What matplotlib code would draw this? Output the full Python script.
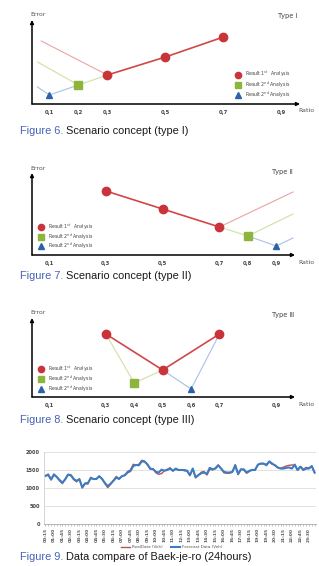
import matplotlib
matplotlib.use('Agg')
import matplotlib.pyplot as plt
import numpy as np

W, H = 319, 566

# ---------------- scenario data (ratio, error in arbitrary units) ----------------
# Type I
t1_ticks = [0.1, 0.2, 0.3, 0.5, 0.7, 0.9]
t1_first_x, t1_first_y = [0.3, 0.5, 0.7], [29, 47, 67]
t1_second_x, t1_second_y = [0.2], [19]
t1_third_x, t1_third_y = [0.1], [9]
t1_red_faint = ([0.072, 0.3], [63, 29])
t1_green_faint = ([0.059, 0.2, 0.3], [42, 19, 29])
t1_blue_faint = ([0.059, 0.1, 0.2], [17, 9, 19])

# Type II
t2_ticks = [0.1, 0.3, 0.5, 0.7, 0.8, 0.9]
t2_first_x, t2_first_y = [0.3, 0.5, 0.7], [64, 46, 28]
t2_second_x, t2_second_y = [0.8], [19]
t2_third_x, t2_third_y = [0.9], [9]
t2_red_faint = ([0.7, 0.959], [28, 63])
t2_green_faint = ([0.7, 0.8, 0.959], [28, 19, 41])
t2_blue_faint = ([0.8, 0.9, 0.959], [19, 9, 17])

# Type III
t3_ticks = [0.1, 0.3, 0.4, 0.5, 0.6, 0.7, 0.9]
t3_first_x, t3_first_y = [0.3, 0.5, 0.7], [63, 27, 63]
t3_second_x, t3_second_y = [0.4], [14]
t3_third_x, t3_third_y = [0.6], [8]
t3_red_faint = ([], [])
t3_green_faint = ([0.3, 0.4, 0.5], [63, 14, 27])
t3_blue_faint = ([0.5, 0.6, 0.7], [27, 8, 63])

legend_labels = [r'Result 1$^{st}$  Analysis', r'Result 2$^{nd}$ Analysis', r'Result 2$^{nd}$ Analysis']

# ---------------- Baek-je-ro 24h data (veh, every 15 min) ----------------
time_labels = ['00:15', '01:00', '01:45', '02:30', '03:15', '04:00', '04:45', '05:30',
               '06:15', '07:00', '07:45', '08:30', '09:15', '10:00', '10:45', '11:30',
               '12:15', '13:00', '13:45', '14:30', '15:15', '16:00', '16:45', '17:30',
               '18:15', '19:00', '19:45', '20:30', '21:15', '22:00', '22:45', '23:30']

real_data = [1330, 1390, 1220, 1360, 1300, 1200, 1120, 1260, 1380, 1340,
             1230, 1170, 1260, 1000, 1120, 1110, 1300, 1240, 1260, 1320,
             1260, 1120, 1010, 1100, 1210, 1320, 1260, 1320, 1360, 1460,
             1500, 1660, 1630, 1660, 1770, 1750, 1640, 1520, 1540, 1420,
             1380, 1400, 1480, 1520, 1560, 1470, 1520, 1490, 1510, 1480,
             1470, 1340, 1520, 1280, 1350, 1440, 1460, 1360, 1520, 1500,
             1560, 1640, 1540, 1420, 1410, 1410, 1440, 1650, 1370, 1510,
             1500, 1410, 1460, 1510, 1510, 1640, 1670, 1670, 1660, 1720,
             1660, 1640, 1560, 1550, 1580, 1610, 1630, 1640, 1630, 1490,
             1600, 1520, 1570, 1560, 1600, 1420]

forecast_data = [1340, 1360, 1240, 1380, 1310, 1220, 1150, 1240, 1370, 1360,
                 1250, 1200, 1240, 1020, 1130, 1140, 1270, 1250, 1250, 1330,
                 1250, 1140, 1050, 1120, 1200, 1290, 1250, 1330, 1350, 1430,
                 1470, 1610, 1640, 1630, 1740, 1730, 1660, 1540, 1520, 1450,
                 1430, 1510, 1480, 1500, 1540, 1480, 1540, 1500, 1500, 1500,
                 1480, 1360, 1540, 1300, 1360, 1410, 1430, 1390, 1560, 1520,
                 1540, 1630, 1540, 1450, 1430, 1430, 1450, 1630, 1390, 1520,
                 1520, 1430, 1480, 1500, 1500, 1650, 1680, 1680, 1630, 1740,
                 1680, 1630, 1570, 1540, 1540, 1560, 1570, 1540, 1650, 1500,
                 1590, 1500, 1540, 1540, 1610, 1430]

RED = '#c9343a'
RED_LINE = '#d0474a'
GREEN = '#8db53c'
BLUE = '#2d61aa'
RED_FAINT = '#eba3a3'
GREEN_FAINT = '#cfe0a3'
BLUE_FAINT = '#a9c1e6'
CAP_BLUE = '#4563b8'
CAP_FONT = ['Liberation Sans', 'DejaVu Sans']
SYM_FONT = ['DejaVu Sans', 'Noto Sans CJK KR']

fig = plt.figure(figsize=(W / 100, H / 100), dpi=100)
fig.patch.set_facecolor('white')


def px_axes(x0, y0, x1, y1):
    return fig.add_axes([x0 / W, 1 - y1 / H, (x1 - x0) / W, (y1 - y0) / H])


def ftext(px, py, s, **kw):
    return fig.text(px / W, 1 - py / H, s, **kw)


def scenario(box, xlim, ylim, ticks, first, second, third, faint, type_lbl,
             err_pos, type_pos, ratio_pos, leg_x, leg_ys):
    ax = px_axes(*box)
    ax.set_xlim(*xlim)
    ax.set_ylim(*ylim)
    for s in ax.spines.values():
        s.set_visible(False)
    # axes with arrows
    ax.annotate('', xy=(1, 0), xytext=(0, 0), xycoords='axes fraction',
                arrowprops=dict(arrowstyle='-|>', lw=1.1, color='black', mutation_scale=5,
                                shrinkA=0, shrinkB=0))
    ax.annotate('', xy=(0, 1), xytext=(0, 0), xycoords='axes fraction',
                arrowprops=dict(arrowstyle='-|>', lw=1.1, color='black', mutation_scale=5,
                                shrinkA=0, shrinkB=0))
    ax.set_yticks([])
    ax.set_xticks(ticks)
    ax.set_xticklabels([('%.1f' % t).replace('.', ',') for t in ticks],
                       fontsize=3.8, fontweight='bold', color='#444444')
    ax.tick_params(axis='x', length=0, pad=4)

    rf, gf, bf = faint
    ax.plot(rf[0], rf[1], color=RED_FAINT, lw=0.8, clip_on=False)
    ax.plot(gf[0], gf[1], color=GREEN_FAINT, lw=0.8, clip_on=False)
    ax.plot(bf[0], bf[1], color=BLUE_FAINT, lw=0.8, clip_on=False)
    ax.plot(first[0], first[1], color=RED_LINE, lw=1.2, clip_on=False)
    ax.plot(first[0], first[1], 'o', color=RED, ms=6, mec=RED, clip_on=False)
    ax.plot(second[0], second[1], 's', color=GREEN, ms=5.5, mec=GREEN, clip_on=False)
    ax.plot(third[0], third[1], '^', color=BLUE, ms=5, mec=BLUE, clip_on=False)

    ftext(err_pos[0], err_pos[1], 'Error', fontsize=4.5, color='#555555', va='center')
    ftext(type_pos[0], type_pos[1], type_lbl, fontsize=4.8, color='#444444', va='center',
          family=SYM_FONT)
    ftext(ratio_pos[0], ratio_pos[1], 'Ratio', fontsize=4.5, color='#555555', va='center')

    # legend drawn as markers + text in figure pixels
    lax = fig.add_axes([0, 0, 1, 1], facecolor='none')
    lax.set_xlim(0, W)
    lax.set_ylim(H, 0)
    lax.axis('off')
    for (m, c, ms), ly, lbl in zip([('o', RED, 4.5), ('s', GREEN, 4.2), ('^', BLUE, 4)],
                                   leg_ys, legend_labels):
        lax.plot([leg_x], [ly], m, color=c, mec=c, ms=ms)
        lax.text(leg_x + 7, ly, lbl, fontsize=3.3, color='#444444', va='center')
    return ax


scenario((32, 20, 300, 104), (0.04, 0.964), (0, 84), t1_ticks,
         (t1_first_x, t1_first_y), (t1_second_x, t1_second_y), (t1_third_x, t1_third_y),
         (t1_red_faint, t1_green_faint, t1_blue_faint), 'Type \u2160',
         (30, 15), (278, 16), (298, 110), 238, [74.5, 84.5, 95])

scenario((32, 173, 295, 255), (0.04, 0.966), (0, 82), t2_ticks,
         (t2_first_x, t2_first_y), (t2_second_x, t2_second_y), (t2_third_x, t2_third_y),
         (t2_red_faint, t2_green_faint, t2_blue_faint), 'Type \u2161',
         (30, 168), (272, 172), (298, 262), 41, [227, 236.5, 246])

scenario((32, 318, 295, 397), (0.04, 0.966), (0, 79), t3_ticks,
         (t3_first_x, t3_first_y), (t3_second_x, t3_second_y), (t3_third_x, t3_third_y),
         (t3_red_faint, t3_green_faint, t3_blue_faint), 'Type \u2162',
         (30, 312), (272, 315), (298, 404), 41, [369, 379, 389])

# ---------------- line chart ----------------
ax4 = px_axes(44, 452, 316, 524)
x = np.arange(len(real_data))
ax4.plot(x, real_data, color='#c0504d', lw=1.0, label='RealData (Veh)')
ax4.plot(x, forecast_data, color='#3a7dc4', lw=1.5, label='Forecast Data (Veh)')
ax4.set_xlim(-0.5, len(real_data) - 0.5)
ax4.set_ylim(0, 2000)
ax4.set_yticks([0, 500, 1000, 1500, 2000])
ax4.set_yticklabels(['0', '500', '1000', '1500', '2000'], fontsize=3.6,
                    fontweight='bold', color='#444444')
ax4.grid(axis='y', color='#dddddd', lw=0.6)
ax4.set_axisbelow(True)
ax4.set_xticks(np.arange(0, len(real_data), 3))
ax4.set_xticklabels(time_labels, rotation=90, fontsize=3.2, fontweight='bold', color='#555555')
ax4.set_xticks(x, minor=True)
ax4.tick_params(axis='x', which='both', length=1.5, width=0.4, color='#999999', pad=1.5)
ax4.tick_params(axis='y', length=0, pad=3)
for s in ['top', 'right']:
    ax4.spines[s].set_visible(False)
ax4.spines['left'].set_color('#d0d0d0')
ax4.spines['left'].set_linewidth(0.6)
ax4.spines['bottom'].set_color('#aaaaaa')
ax4.spines['bottom'].set_linewidth(0.6)
fig.legend(loc='center', bbox_to_anchor=(172 / W, 1 - 547 / H), ncol=2, frameon=False,
           fontsize=3, handlelength=2, handletextpad=0.6, columnspacing=2,
           labelcolor='#555555')

# ---------------- captions ----------------
captions = [('Figure 6.', 'Scenario concept (type I)', 131),
            ('Figure 7.', 'Scenario concept (type II)', 276),
            ('Figure 8.', 'Scenario concept (type III)', 420),
            ('Figure 9.', 'Data compare of Baek-je-ro (24hours)', 557)]
fig.canvas.draw()
r = fig.canvas.get_renderer()
for head, rest, py in captions:
    t = ftext(20, py, head, fontsize=7.9, color=CAP_BLUE, va='center', family=CAP_FONT)
    bb = t.get_window_extent(renderer=r)
    ftext(bb.x1 + 3, py, rest, fontsize=7.9, color='#1a1a1a', va='center', family=CAP_FONT)

fig.savefig('out.png', dpi=100, facecolor='white')
